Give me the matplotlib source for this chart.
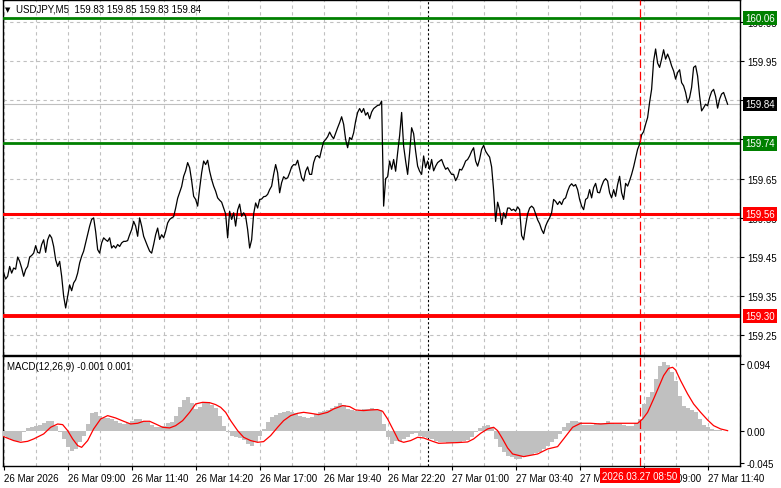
import numpy as np
import matplotlib.pyplot as plt
from matplotlib.transforms import blended_transform_factory

plt.rcParams['font.family'] = ['Liberation Sans', 'DejaVu Sans']
plt.rcParams['font.size'] = 7

# USDJPY M5 closes, one per bar starting 26 Mar 06:20
close = [
    159.409, 159.394, 159.401, 159.426, 159.409, 159.422, 159.419, 159.450, 159.439, 159.422,
    159.401, 159.418, 159.426, 159.450, 159.454, 159.460, 159.479, 159.462, 159.460, 159.482,
    159.494, 159.462, 159.494, 159.507, 159.499, 159.477, 159.443, 159.426, 159.439, 159.401,
    159.350, 159.320, 159.349, 159.379, 159.364, 159.384, 159.392, 159.409, 159.435, 159.452,
    159.465, 159.486, 159.507, 159.529, 159.546, 159.550, 159.515, 159.469, 159.460, 159.486,
    159.499, 159.494, 159.490, 159.499, 159.473, 159.479, 159.473, 159.482, 159.477, 159.486,
    159.490, 159.490, 159.492, 159.507, 159.520, 159.541, 159.529, 159.503, 159.550, 159.529,
    159.503, 159.490, 159.477, 159.465, 159.460, 159.482, 159.507, 159.524, 159.495, 159.507,
    159.499, 159.516, 159.537, 159.546, 159.550, 159.553, 159.575, 159.600, 159.615, 159.630,
    159.656, 159.670, 159.691, 159.678, 159.645, 159.605, 159.597, 159.580, 159.625, 159.665,
    159.695, 159.686, 159.697, 159.669, 159.648, 159.631, 159.618, 159.601, 159.595, 159.590,
    159.575, 159.560, 159.499, 159.567, 159.546, 159.563, 159.529, 159.570, 159.585, 159.554,
    159.563, 159.554, 159.520, 159.473, 159.494, 159.560, 159.588, 159.575, 159.597, 159.598,
    159.604, 159.605, 159.610, 159.622, 159.631, 159.661, 159.686, 159.665, 159.614, 159.640,
    159.655, 159.650, 159.652, 159.665, 159.680, 159.686, 159.685, 159.697, 159.674, 159.652,
    159.644, 159.669, 159.680, 159.661, 159.661, 159.691, 159.706, 159.709, 159.703, 159.725,
    159.744, 159.750, 159.757, 159.769, 159.759, 159.752, 159.766, 159.780, 159.793, 159.808,
    159.789, 159.750, 159.729, 159.755, 159.750, 159.767, 159.797, 159.819, 159.829, 159.819,
    159.829, 159.812, 159.819, 159.803, 159.820, 159.829, 159.833, 159.837, 159.838, 159.848,
    159.580, 159.650, 159.655, 159.695, 159.674, 159.699, 159.669, 159.716, 159.760, 159.819,
    159.733, 159.695, 159.661, 159.716, 159.780, 159.765, 159.720, 159.682, 159.669, 159.661,
    159.708, 159.678, 159.695, 159.674, 159.699, 159.670, 159.682, 159.691, 159.695, 159.699,
    159.685, 159.674, 159.678, 159.669, 159.661, 159.661, 159.645, 159.655, 159.674, 159.672,
    159.682, 159.695, 159.699, 159.708, 159.720, 159.729, 159.695, 159.682, 159.700, 159.725,
    159.735, 159.720, 159.712, 159.705, 159.680, 159.620, 159.541, 159.590, 159.571, 159.533,
    159.563, 159.550, 159.575, 159.575, 159.569, 159.572, 159.567, 159.578, 159.571, 159.505,
    159.494, 159.529, 159.560, 159.575, 159.580, 159.575, 159.560, 159.545, 159.535, 159.520,
    159.510, 159.529, 159.541, 159.550, 159.563, 159.597, 159.592, 159.584, 159.592, 159.584,
    159.597, 159.601, 159.618, 159.631, 159.637, 159.631, 159.635, 159.622, 159.597, 159.580,
    159.571, 159.597, 159.601, 159.622, 159.601, 159.627, 159.638, 159.615, 159.614, 159.631,
    159.644, 159.650, 159.644, 159.614, 159.601, 159.622, 159.605, 159.635, 159.656, 159.614,
    159.597, 159.638, 159.631, 159.645, 159.661, 159.680, 159.703, 159.725, 159.738, 159.762,
    159.770, 159.789, 159.806, 159.845, 159.878, 159.950, 159.981, 159.945, 159.934, 159.955,
    159.979, 159.955, 159.968, 159.955, 159.938, 159.925, 159.904, 159.921, 159.928, 159.895,
    159.887, 159.870, 159.844, 159.857, 159.883, 159.934, 159.938, 159.912, 159.861, 159.823,
    159.831, 159.840, 159.836, 159.857, 159.872, 159.878, 159.860, 159.830, 159.853, 159.866,
    159.870, 159.855, 159.840,
]

# MACD histogram, every second bar
hist = [
    -0.0060, -0.0093, -0.0120, -0.0130, -0.0130, -0.0014, 0.0047, 0.0065, 0.0079, 0.0093,
    0.0112, 0.0140, 0.0149, 0.0079, -0.0014, -0.0107, -0.0224, -0.0270, -0.0247, -0.0154,
    -0.0060, 0.0102, 0.0251, 0.0265, 0.0219, 0.0186, 0.0186, 0.0172, 0.0140, 0.0116,
    0.0102, 0.0112, 0.0149, 0.0172, 0.0172, 0.0149, 0.0126, 0.0093, 0.0065, 0.0056,
    0.0079, 0.0112, 0.0126, 0.0219, 0.0335, 0.0438, 0.0484, 0.0391, 0.0312, 0.0345,
    0.0391, 0.0405, 0.0373, 0.0326, 0.0219, 0.0079, -0.0014, -0.0060, -0.0084, -0.0093,
    -0.0120, -0.0177, -0.0200, -0.0154, -0.0060, 0.0033, 0.0126, 0.0196, 0.0233, 0.0251,
    0.0265, 0.0279, 0.0265, 0.0251, 0.0219, 0.0196, 0.0186, 0.0205, 0.0242, 0.0265,
    0.0279, 0.0298, 0.0326, 0.0359, 0.0391, 0.0373, 0.0312, 0.0298, 0.0289, 0.0298,
    0.0312, 0.0312, 0.0326, 0.0312, 0.0298, 0.0102, -0.0084, -0.0180, -0.0130, -0.0140,
    -0.0107, -0.0084, -0.0037, -0.0028, -0.0060, -0.0075, -0.0093, -0.0107, -0.0140, -0.0154,
    -0.0154, -0.0158, -0.0158, -0.0154, -0.0154, -0.0140, -0.0120, -0.0075, -0.0014, 0.0047,
    0.0079, 0.0088, 0.0065, -0.0107, -0.0224, -0.0293, -0.0340, -0.0363, -0.0387, -0.0387,
    -0.0354, -0.0340, -0.0326, -0.0307, -0.0293, -0.0247, -0.0200, -0.0154, -0.0107, -0.0037,
    0.0056, 0.0112, 0.0140, 0.0149, 0.0126, 0.0093, 0.0088, 0.0093, 0.0102, 0.0112,
    0.0121, 0.0140, 0.0112, 0.0102, 0.0102, 0.0093, 0.0079, 0.0079, 0.0112, 0.0172,
    0.0382, 0.0475, 0.0545, 0.0731, 0.0917, 0.0973, 0.0931, 0.0824, 0.0708, 0.0498,
    0.0359, 0.0326, 0.0298, 0.0265, 0.0172, 0.0093, 0.0056, 0.0037, 0.0019, 0.0019,
    0.0009, 0.0005,
]
hist_bars = np.arange(0, 363, 2)

# MACD signal line
sig_bars = [0, 5, 8.5, 12, 15, 20, 23.5, 27, 29.5, 32, 34.5, 37, 39, 42, 45, 48.5, 52, 56, 60,
            63.5, 67, 70, 73, 76, 79.5, 83, 86, 89.5, 93, 96, 99.5, 103, 106, 108.5, 111, 113.5,
            117, 120, 123.5, 127, 130, 133.5, 137, 140, 143.5, 147, 150, 153.5, 157.5, 162,
            165, 169.5, 173, 176, 180, 183.5, 187, 189.5, 192, 195, 197.5, 200, 203.5, 207,
            210, 214.5, 217.5, 222, 227, 232, 235, 238.5, 242, 245, 247, 249.5, 252, 254.5,
            260, 267, 272, 277, 280, 284.5, 288.5, 293.5, 298.5, 303.5, 310, 317, 319.5, 322,
            325, 327.5, 330, 332.5, 334.5, 336, 338.5, 342, 345, 348.5, 352, 355, 358.5, 362]
sig_vals = [-0.0075, -0.0130, -0.0154, -0.0140, -0.0107, -0.0037, 0.0056, 0.0102, 0.0093, 0.0009,
            -0.0107, -0.0200, -0.0224, -0.0130, 0.0033, 0.0172, 0.0219, 0.0186, 0.0140,
            0.0102, 0.0112, 0.0140, 0.0140, 0.0102, 0.0056, 0.0047, 0.0079, 0.0149, 0.0265, 0.0382,
            0.0405, 0.0400, 0.0373, 0.0335, 0.0265, 0.0149,
            0.0009, -0.0084, -0.0130, -0.0154, -0.0144, -0.0060, 0.0056, 0.0149, 0.0219, 0.0251,
            0.0265, 0.0251, 0.0233, 0.0265,
            0.0312, 0.0359, 0.0345, 0.0298, 0.0289, 0.0298, 0.0303, 0.0279, 0.0172, 0.0009,
            -0.0130, -0.0154, -0.0130, -0.0084,
            -0.0093, -0.0140, -0.0168, -0.0163, -0.0158, -0.0149, -0.0107, -0.0028, 0.0033, 0.0056,
            0.0009, -0.0107, -0.0233, -0.0317,
            -0.0354, -0.0317, -0.0247, -0.0214, -0.0107, 0.0056, 0.0112, 0.0112, 0.0102, 0.0112,
            0.0112, 0.0112, 0.0172, 0.0265,
            0.0452, 0.0615, 0.0778, 0.0880, 0.0894, 0.0857, 0.0708, 0.0522, 0.0382, 0.0265,
            0.0158, 0.0079, 0.0033, 0.0009]

time_labels = ['26 Mar 2026', '26 Mar 09:00', '26 Mar 11:40', '26 Mar 14:20', '26 Mar 17:00',
               '26 Mar 19:40', '26 Mar 22:20', '27 Mar 01:00', '27 Mar 03:40', '27 Mar 06:20',
               '27 Mar 09:00', '27 Mar 11:40']

# horizontal levels: (price, colour, width)
levels = [(160.06, '#008000', 2.0), (159.74, '#008000', 2.0),
          (159.56, '#ff0000', 2.2), (159.30, '#ff0000', 2.8)]
last_price = 159.84
day_sep_bar = 212
cursor_bar = 318

W, H = 781, 489


def box(x0, y0, x1, y1):
    return [x0 / W, 1 - y1 / H, (x1 - x0) / W, (y1 - y0) / H]


fig = plt.figure(figsize=(W / 100, H / 100), dpi=100)
ax = fig.add_axes(box(3, 1, 740, 356))
axm = fig.add_axes(box(3, 357, 740, 467), sharex=ax)

grid_kw = dict(color='#c0c0c0', ls=(0, (3, 3)), lw=0.8)

# --- price panel ---
ax.plot(np.arange(len(close)), close, color='black', lw=0.9, zorder=4)
ax.axhline(last_price, color='#c0c0c0', lw=0.8, zorder=2)
for price, col, w in levels:
    ax.axhline(price, color=col, lw=w, zorder=3)
ax.set_xlim(-0.33, 368.2)
ax.set_ylim(159.200, 160.106)
ax.set_yticks(np.round(np.arange(159.25, 160.1, 0.1), 2))
ax.yaxis.set_major_formatter(plt.FormatStrFormatter('%.2f'))
ax.yaxis.tick_right()
ax.tick_params(axis='y', length=3, width=0.8, pad=2, labelsize=7)
ax.set_xticks(np.arange(0, 369, 32))
ax.set_xticks(np.arange(16, 369, 32), minor=True)
ax.tick_params(axis='x', which='both', length=0, labelbottom=False)
ax.grid(True, which='both', **grid_kw)
ax.set_axisbelow(True)

tr = blended_transform_factory(ax.transAxes, ax.transData)
for price, col, w in levels + [(last_price, 'black', 0)]:
    ax.text(1.0075, price, f'{price:.2f}', transform=tr, color='white', va='center',
            ha='left', fontsize=7, clip_on=False, zorder=10,
            bbox=dict(boxstyle='square,pad=0.22', fc=col, ec='none'))

ax.text(0.003, 0.975, '\u25bc', transform=ax.transAxes, fontsize=5,
        family='DejaVu Sans', va='center', ha='left')
ax.text(0.018, 0.975, 'USDJPY,M5  159.83 159.85 159.83 159.84', transform=ax.transAxes,
        va='center', ha='left', fontsize=7)

# --- MACD panel ---
axm.bar(hist_bars, hist, width=2, color='#c0c0c0', lw=0, zorder=3)
axm.plot(sig_bars, sig_vals, color='red', lw=0.9, zorder=4)
axm.set_ylim(-0.0485, 0.1052)
axm.set_yticks([0.094, 0.0, -0.045])
axm.set_yticklabels(['0.094', '0.00', '-0.045'])
axm.yaxis.tick_right()
axm.tick_params(axis='y', length=3, width=0.8, pad=2, labelsize=7)
axm.set_xticks(np.arange(0, 369, 32))
axm.set_xticks(np.arange(16, 369, 32), minor=True)
axm.set_xticklabels(time_labels, ha='left')
axm.tick_params(axis='x', which='major', length=3, width=0.8, pad=2, labelsize=7)
axm.tick_params(axis='x', which='minor', length=0)
axm.grid(True, axis='x', which='both', **grid_kw)
axm.set_axisbelow(True)
axm.text(0.0055, 0.905, 'MACD(12,26,9) -0.001 0.001', transform=axm.transAxes,
         va='center', ha='left', fontsize=7)

for a in (ax, axm):
    a.axvline(day_sep_bar, color='black', ls=(0, (2, 2)), lw=0.8, zorder=2)
    a.axvline(cursor_bar, color='red', ls=(0, (7, 3)), lw=0.9, zorder=5)
    for s in a.spines.values():
        s.set_linewidth(1.0)

trm = blended_transform_factory(axm.transData, axm.transAxes)
axm.text(cursor_bar, -0.09, '2026.03.27 08:50', transform=trm, color='white', ha='center',
         va='center', fontsize=7, clip_on=False, zorder=10,
         bbox=dict(boxstyle='square,pad=0.25', fc='red', ec='none'))

fig.savefig('out.png', dpi=100, facecolor='white')
